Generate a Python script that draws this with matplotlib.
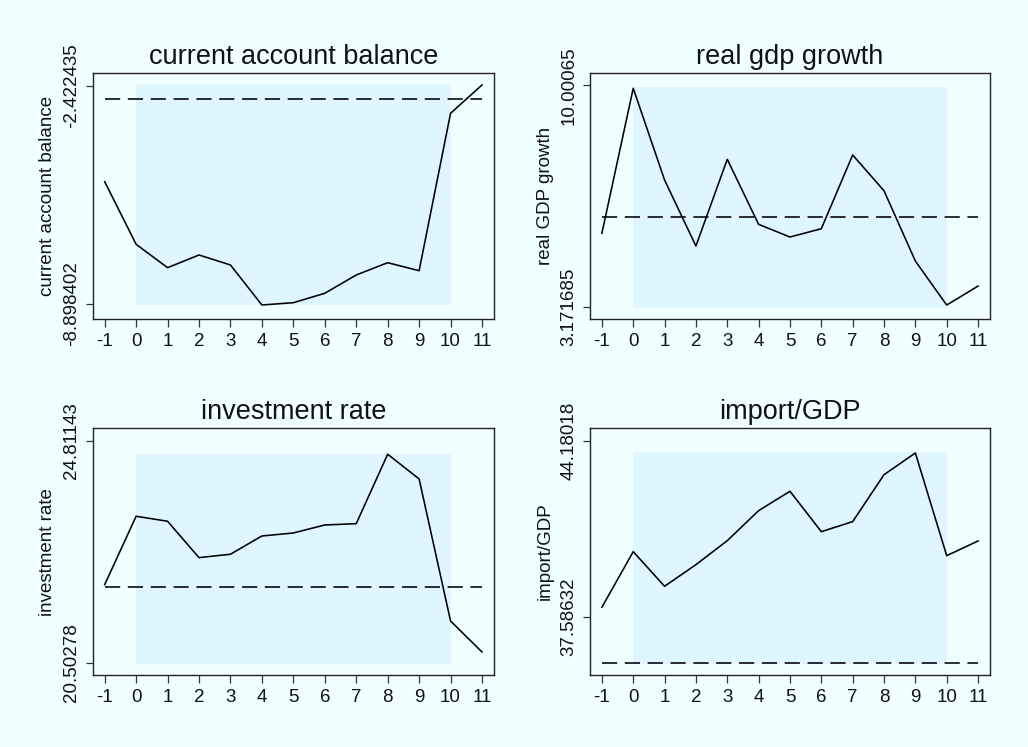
import matplotlib
matplotlib.use("Agg")
import matplotlib.pyplot as plt

plt.rcParams["font.family"] = ["Liberation Sans", "DejaVu Sans"]

# event time
periods = [-1, 0, 1, 2, 3, 4, 5, 6, 7, 8, 9, 10, 11]

# series paths
current_account = [-5.269, -7.132, -7.827, -7.450, -7.747, -8.937, -8.869,
                   -8.589, -8.045, -7.679, -7.917, -3.235, -2.393]
gdp_growth = [5.434, 9.908, 7.078, 5.042, 7.717, 5.711, 5.320,
              5.576, 7.850, 6.748, 4.579, 3.221, 3.807]
investment = [22.019, 23.348, 23.251, 22.544, 22.610, 22.965, 23.023,
              23.179, 23.204, 24.553, 24.073, 21.313, 20.711]
import_gdp = [37.950, 40.033, 38.736, 39.546, 40.445, 41.569, 42.295,
              40.782, 41.157, 42.917, 43.730, 39.883, 40.433]

# comparison (benchmark) levels, drawn dashed
benchmarks = [-2.80, 5.927, 21.980, 35.874]

# episode window shading: start, end, and vertical band per panel
window = [0, 10]
band_low = [-8.928, 3.138, 20.478, 35.825]
band_high = [-2.372, 9.948, 24.565, 43.768]

titles = ["current account balance", "real gdp growth",
          "investment rate", "import/GDP"]
ylabels = ["current account balance", "real GDP growth",
           "investment rate", "import/GDP"]
ytick_values = [[-8.898402, -2.422435], [3.171685, 10.00065],
                [20.50278, 24.81143], [37.58632, 44.18018]]
ytick_labels = [["-8.898402", "-2.422435"], ["3.171685", "10.00065"],
                ["20.50278", "24.81143"], ["37.58632", "44.18018"]]
ylims = [(-9.353, -2.027), (2.792, 10.389), (20.264, 25.058), (35.413, 44.656)]

series = [current_account, gdp_growth, investment, import_gdp]

bg = "#F0FFFF"
band_color = "#DFF5FF"

fig = plt.figure(figsize=(10.28, 7.47), dpi=100, facecolor=bg)

boxes = [
    (0.0902, 0.5730, 0.3903, 0.3297),
    (0.5739, 0.5730, 0.3891, 0.3297),
    (0.0902, 0.0964, 0.3903, 0.3303),
    (0.5739, 0.0964, 0.3891, 0.3303),
]

for i, box in enumerate(boxes):
    ax = fig.add_axes(box)
    ax.set_facecolor(bg)
    ax.fill_between(window, band_low[i], band_high[i], color=band_color,
                    linewidth=0, zorder=1)
    ax.plot(periods, [benchmarks[i]] * len(periods), color="black",
            linewidth=1.15, dashes=(9.5, 4.8), zorder=2)
    ax.plot(periods, series[i], color="black", linewidth=1.15, zorder=3)

    ax.set_xlim(-1.38, 11.38)
    ax.set_ylim(*ylims[i])
    ax.set_xticks(periods)
    ax.set_xticklabels([str(p) for p in periods], fontsize=13.5)
    ax.set_yticks(ytick_values[i])
    ax.set_yticklabels(ytick_labels[i], fontsize=13.5, rotation=90,
                       va="center")
    ax.tick_params(axis="both", length=5.4, width=0.9, color="#333333",
                   labelcolor="#111111")
    ax.tick_params(axis="y", pad=3.6)
    ax.tick_params(axis="x", pad=4.5)
    for sp in ax.spines.values():
        sp.set_linewidth(1.0)
        sp.set_color("#222222")
    ax.set_title(titles[i], fontsize=19.5, pad=6.5, color="#111111")
    ax.set_ylabel(ylabels[i], fontsize=13.5, labelpad=5, color="#111111")

fig.savefig("out.png", dpi=100, facecolor=bg)
